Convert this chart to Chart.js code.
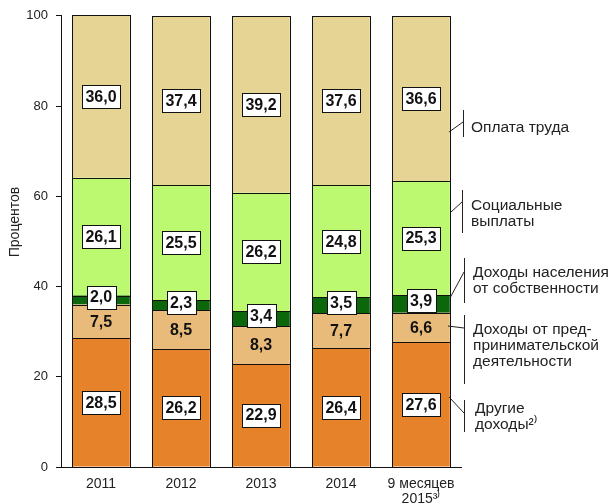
<!DOCTYPE html>
<html lang="ru">
<head>
<meta charset="UTF-8">
<title>Структура денежных доходов населения</title>
<script src="https://cdn.jsdelivr.net/npm/chart.js"></script>
<style>
    html, body { margin: 0; padding: 0; background: #fff; }
    #wrap { width: 614px; height: 503px; position: relative; }
</style>
</head>
<body>
<div id="wrap"><canvas id="incomeChart"></canvas></div>

<script>
// values, percent of total money income (bottom to top of each bar)
const years = ["2011", "2012", "2013", "2014", ["9 месяцев", "2015³⁾"]];
const otherIncome = [28.5, 26.2, 22.9, 26.4, 27.6];
const businessIncome = [7.5, 8.5, 8.3, 7.7, 6.6];
const propertyIncome = [2.0, 2.3, 3.4, 3.5, 3.9];
const socialPayments = [26.1, 25.5, 26.2, 24.8, 25.3];
const wages = [36.0, 37.4, 39.2, 37.6, 36.6];
const yTicks = [0, 20, 40, 60, 80, 100];
const yTitle = "Процентов";

const FONT = "'Liberation Sans', Arial, sans-serif";
Chart.defaults.font.family = FONT;
Chart.defaults.color = "#222";

function fmt(v) {
    return v.toFixed(1).replace(".", ",");
}

// crisp 1px outlines round every segment
const segmentOutlines = {
    id: "segmentOutlines",
    afterDatasetsDraw(chart) {
        const ctx = chart.ctx;
        ctx.save();
        ctx.strokeStyle = "#111";
        ctx.lineWidth = 1;
        chart.data.datasets.forEach((ds, i) => {
            chart.getDatasetMeta(i).data.forEach(bar => {
                const l = Math.round(bar.x - bar.width / 2);
                const r = Math.round(bar.x + bar.width / 2);
                const t = Math.round(Math.min(bar.y, bar.base));
                const b = Math.round(Math.max(bar.y, bar.base));
                ctx.strokeRect(l + 0.5, t + 0.5, r - l, b - t);
            });
        });
        ctx.restore();
    }
};

// value labels inside the segments (white boxes for most)
const valueLabels = {
    id: "valueLabels",
    afterDatasetsDraw(chart) {
        const ctx = chart.ctx;
        ctx.save();
        ctx.font = "bold 16px " + FONT;
        ctx.textAlign = "center";
        ctx.textBaseline = "middle";
        chart.data.datasets.forEach((ds, i) => {
            const meta = chart.getDatasetMeta(i);
            meta.data.forEach((bar, j) => {
                const cx = bar.x;
                const cy = (bar.y + bar.base) / 2 + (ds.labelShift || 0);
                const txt = fmt(ds.data[j]);
                if (ds.boxed) {
                    const w = Math.round(ctx.measureText(txt).width + 7);
                    const h = 23;
                    const bx = Math.round(cx - w / 2) + 0.5;
                    const by = Math.round(cy - h / 2) + 0.5;
                    ctx.fillStyle = "#fff";
                    ctx.fillRect(bx, by, w, h);
                    ctx.strokeStyle = "#111";
                    ctx.lineWidth = 1;
                    ctx.strokeRect(bx, by, w, h);
                }
                ctx.fillStyle = "#111";
                ctx.fillText(txt, cx, cy + 1);
            });
        });
        ctx.restore();
    }
};

// series names on the right with bracket lines
const sideLegend = {
    id: "sideLegend",
    afterDraw(chart) {
        const ctx = chart.ctx;
        const items = [
            { lines: ["Оплата труда"], tx: 471, ty: 128, vx: 463.5, v0: 110, v1: 137, c: [449, 132, 463, 122] },
            { lines: ["Социальные", "выплаты"], tx: 471, ty: 206, vx: 462.5, v0: 190, v1: 233, c: [451, 212, 462, 202] },
            { lines: ["Доходы населения", "от собственности"], tx: 473, ty: 273, vx: 464.5, v0: 258, v1: 303, c: [450, 298, 464, 272] },
            { lines: ["Доходы от пред-", "принимательской", "деятельности"], tx: 473, ty: 330, vx: 464.5, v0: 315, v1: 384, c: [448, 326, 464, 328] },
            { lines: ["Другие", "доходы²⁾"], tx: 475, ty: 409, vx: 464.5, v0: 400, v1: 432, c: [449, 397, 464, 413] }
        ];
        ctx.save();
        ctx.strokeStyle = "#222";
        ctx.lineWidth = 1;
        ctx.fillStyle = "#222";
        ctx.font = "15.5px " + FONT;
        ctx.textAlign = "left";
        ctx.textBaseline = "middle";
        items.forEach(it => {
            ctx.beginPath();
            ctx.moveTo(it.vx, it.v0);
            ctx.lineTo(it.vx, it.v1);
            ctx.moveTo(it.c[0], it.c[1]);
            ctx.lineTo(it.c[2], it.c[3]);
            ctx.stroke();
            it.lines.forEach((ln, k) => ctx.fillText(ln, it.tx, it.ty + k * 16));
        });

        // y axis title
        ctx.save();
        ctx.translate(15, 222);
        ctx.rotate(-Math.PI / 2);
        ctx.textAlign = "center";
        ctx.font = "14px " + FONT;
        ctx.fillText(yTitle, 0, 0);
        ctx.restore();
        ctx.restore();
    }
};

const ctx = document.getElementById("incomeChart").getContext("2d");

const incomeChart = new Chart(ctx, {
    type: "bar",
    data: {
        labels: years,
        datasets: [
            { label: "Другие доходы", data: otherIncome, backgroundColor: "#e6822a", boxed: true },
            { label: "Доходы от предпринимательской деятельности", data: businessIncome, backgroundColor: "#e8bb7b", boxed: false },
            { label: "Доходы населения от собственности", data: propertyIncome, backgroundColor: "#0c660c", boxed: true, labelShift: -3 },
            { label: "Социальные выплаты", data: socialPayments, backgroundColor: "#bdf970", boxed: true },
            { label: "Оплата труда", data: wages, backgroundColor: "#e6d495", boxed: true }
        ].map(ds => Object.assign(ds, {
            borderWidth: 0,
            categoryPercentage: 1,
            barPercentage: 0.72
        }))
    },
    options: {
        responsive: true,
        maintainAspectRatio: false,
        animation: false,
        layout: { padding: { top: 15, right: 153, left: 0, bottom: 0 } },
        plugins: {
            legend: { display: false },
            tooltip: { enabled: false }
        },
        scales: {
            x: {
                stacked: true,
                grid: { display: false, drawTicks: false },
                border: { display: true, color: "#111", width: 1 },
                ticks: { font: { size: 14, lineHeight: 1.05 }, color: "#222", padding: 10, maxRotation: 0, crossAlign: "near" },
                afterFit: s => { s.height = 36; }
            },
            y: {
                stacked: true,
                min: 0,
                max: 100,
                grid: { display: true, drawOnChartArea: false, drawTicks: true, tickLength: 5, color: "#111" },
                border: { display: true, color: "#111", width: 1 },
                afterBuildTicks: s => { s.ticks = yTicks.map(v => ({ value: v })); },
                ticks: { font: { size: 13 }, color: "#222", padding: 8 },
                afterFit: s => { s.width = 61; }
            }
        }
    },
    plugins: [segmentOutlines, valueLabels, sideLegend]
});
</script>
</body>
</html>
